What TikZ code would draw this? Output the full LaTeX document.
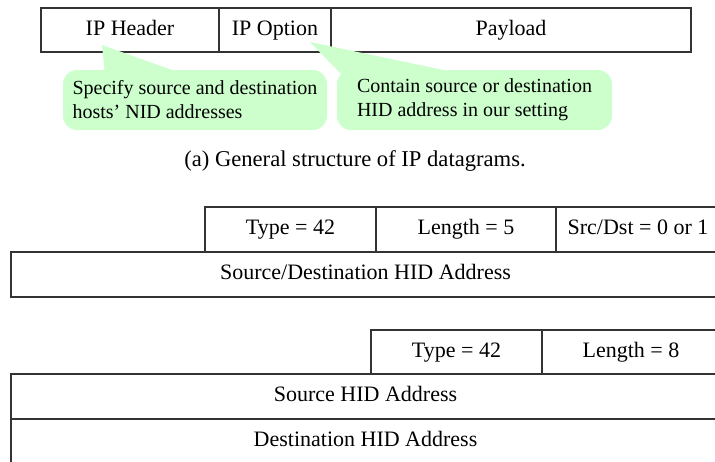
\documentclass[tikz,border=0pt]{standalone}
\usepackage{fontspec}
\setmainfont{Liberation Serif}
\newfontfamily\figfont{Liberation Serif}
\usetikzlibrary{positioning,calc}

\definecolor{notegreen}{RGB}{204,255,204}

\tikzset{
	field/.style={draw=black!80,line width=1.3pt,inner sep=0pt,outer sep=0pt,
		minimum height=44pt,anchor=north west,text height=15pt,text depth=5pt,
		font=\figfont\fontsize{22}{26}\selectfont},
	note/.style={fill=notegreen,rounded corners=14pt,inner sep=0pt,
		minimum height=60pt,align=left,font=\figfont\fontsize{20}{24}\selectfont},
	pointer/.style={fill=notegreen}
}

\begin{document}
\begin{tikzpicture}[x=1pt,y=-1pt]
	\useasboundingbox (0,0) rectangle (715,461);
	\clip (0,0) rectangle (715,461);

	% (a) IP datagram
	\node[field,minimum width=178pt] (hdr) at (41,8) {IP Header};
	\node[field,minimum width=112pt,right=0pt of hdr] (opt) {IP Option};
	\node[field,minimum width=360pt,right=0pt of opt] (pay) {Payload};

	\node[note,minimum width=264pt] (hdrnote) at (195,100) {Specify source and destination\\hosts’ NID addresses};
	\node[note,minimum width=275pt] (optnote) at (474.5,100) {Contain source or destination\\HID address in our setting};

		\coordinate (hdrtip) at (102,45);
		\coordinate (hdrbase1) at ($(hdrnote.north west)+(42,3)$);
		\coordinate (hdrbase2) at ($(hdrnote.north west)+(117,3)$);
		\coordinate (opttip) at (310,42);
		\coordinate (optbase1) at ($(optnote.north west)+(6,6)$);
		\coordinate (optbase2) at ($(optnote.north west)+(120,3)$);

	\fill[pointer] (hdrtip) -- (hdrbase1) -- (hdrbase2) -- cycle;
	\fill[pointer] (opttip) -- (optbase1) -- (optbase2) -- cycle;

	\node[font=\figfont\fontsize{22.6}{26}\selectfont] (capa) at (355,161) {(a) General structure of IP datagrams.};

	% single HID option
	\node[field,minimum width=171pt,minimum height=45pt] (onetype) at (205,207) {Type = 42};
	\node[field,minimum width=180pt,minimum height=45pt,right=0pt of onetype] (onelen) {Length = 5};
	\node[field,minimum width=164pt,minimum height=45pt,right=0pt of onelen] (oneflag) {Src/Dst = 0 or 1};
	\node[field,minimum width=709pt,minimum height=45pt] (oneaddr) at (11,252) {Source/Destination HID Address};

	% source and destination HID option
	\node[field,minimum width=171pt] (twotype) at (371,330) {Type = 42};
	\node[field,minimum width=178pt,right=0pt of twotype] (twolen) {Length = 8};
	\node[field,minimum width=709pt,minimum height=45pt] (twosrc) at (11,374) {Source HID Address};
	\node[field,minimum width=709pt,minimum height=45pt] (twodst) at (11,419) {Destination HID Address};

\end{tikzpicture}
\end{document}
